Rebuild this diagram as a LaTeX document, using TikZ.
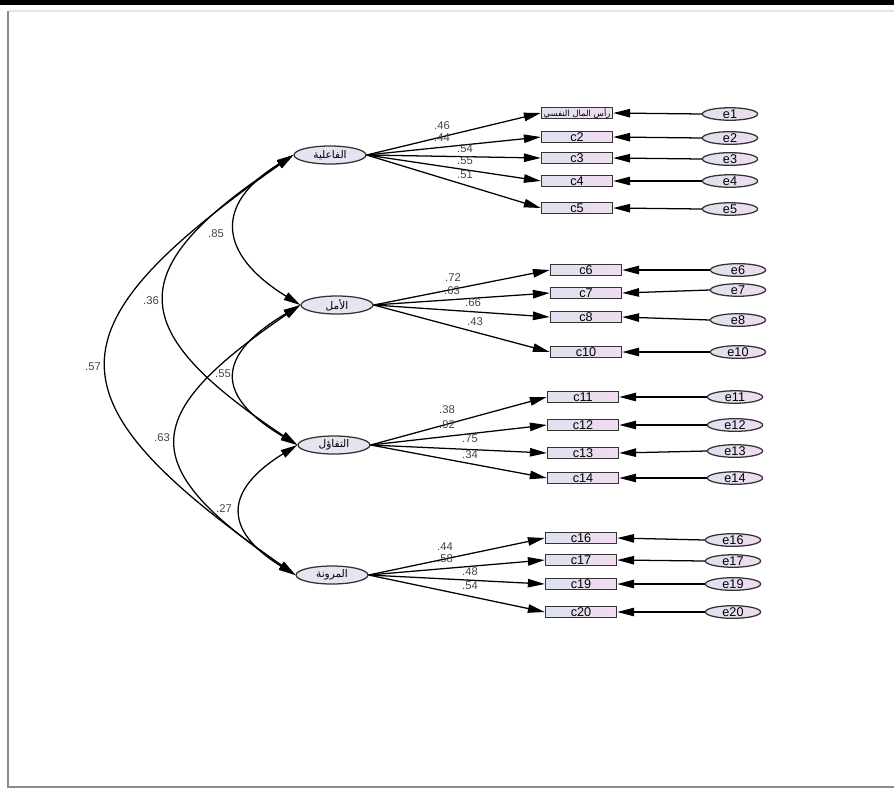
\documentclass[tikz,border=0pt]{standalone}
\usepackage{fontspec}
\setmainfont{Liberation Sans}
\newfontfamily\arabicfont[Script=Arabic]{DejaVu Sans}
\TeXXeTstate=1
\usetikzlibrary{shapes.geometric, arrows.meta, calc}
\usepackage{xcolor}
\definecolor{semline}{HTML}{333333}
\definecolor{semfill}{HTML}{E8E3F1}
\definecolor{semleft}{HTML}{DDE2EE}
\definecolor{semright}{HTML}{F1DBF0}
\definecolor{semtext}{HTML}{444444}

\begin{document}
\begin{tikzpicture}[x=0.025cm, y=-0.025cm, font=\fontsize{9}{9}\selectfont,
    latent/.style={draw=semline, ellipse, fill=semfill, line width=0.9pt,
                   minimum width=1.8cm, minimum height=0.45cm, inner sep=0pt,
                   font=\arabicfont\fontsize{7.5}{8}\selectfont},
    obs/.style={draw=semline, rectangle, left color=semleft, right color=semright,
                line width=0.9pt, minimum width=1.78cm, minimum height=0.26cm, inner sep=0pt},
    err/.style={draw=semline, ellipse, left color=semleft, right color=semright,
                line width=0.9pt, minimum width=1.38cm, minimum height=0.27cm, inner sep=0pt},
    coef/.style={text=semtext, inner sep=0pt, font=\fontsize{8}{8}\selectfont},
    path/.style={draw=black, line width=0.9pt, -{Triangle[length=12pt, width=6pt]}},
    cov/.style={draw=black, line width=0.9pt,
                {Triangle[length=12pt, width=6pt]}-{Triangle[length=12pt, width=6pt]}}]
  \useasboundingbox (0,0) rectangle (894,791);
  % page frame
  \fill[white] (0,0) rectangle (894,791);
  \fill[black] (0,0) rectangle (894,5);
  \draw[black!10, line width=1.5pt] (9,11) -- (894,11);
  \draw[black!45, line width=1.5pt] (8,11) -- (8,788);
  \draw[black!45, line width=2pt] (8,787) -- (894,787);

  % latent factors
  \node[latent] (f1) at (330,155) {\beginR الفاعلية\endR};
  \node[latent] (f2) at (337,305) {\beginR الأمل\endR};
  \node[latent] (f3) at (334,445) {\beginR التفاؤل\endR};
  \node[latent] (f4) at (332,575) {\beginR المرونة\endR};

  % first indicator
  \node[obs, font=\arabicfont\fontsize{6}{6}\selectfont] (c1) at (577,113) {\beginR رأس المال النفسي\endR};
  \node[err] (e1) at (730,114) {e1};
  \draw[path] (f1.east) -- (c1.west);
  \draw[path] (e1.west) -- (c1.east);
  \node[coef] (l1) at (442,126) {.46};

  % indicators of f1
  \foreach \n/\cy/\ey/\v/\lx/\ly in {2/137/138/.44/442/138, 3/158/159/.54/465/149,
      4/181/181/.55/465/161, 5/208/209/.51/465/175} {
    \node[obs] (c\n) at (577,\cy) {c\n};
    \node[err] (e\n) at (730,\ey) {e\n};
    \draw[path] (f1.east) -- (c\n.west);
    \draw[path] (e\n.west) -- (c\n.east);
    \node[coef] (l\n) at (\lx,\ly) {\v};
  }
  % indicators of f2
  \foreach \n/\cy/\ey/\v/\lx/\ly in {6/270/270/.72/453/278, 7/293/290/.63/452/291,
      8/317/320/.66/473/303, 10/352/352/.43/475/322} {
    \node[obs] (c\n) at (586,\cy) {c\n};
    \node[err] (e\n) at (738,\ey) {e\n};
    \draw[path] (f2.east) -- (c\n.west);
    \draw[path] (e\n.west) -- (c\n.east);
    \node[coef] (l\n) at (\lx,\ly) {\v};
  }
  % indicators of f3
  \foreach \n/\cy/\ey/\v/\lx/\ly in {11/397/397/.38/447/410, 12/425/425/.92/447/425,
      13/453/451/.75/470/439, 14/478/478/.34/470/455} {
    \node[obs] (c\n) at (583,\cy) {c\n};
    \node[err] (e\n) at (735,\ey) {e\n};
    \draw[path] (f3.east) -- (c\n.west);
    \draw[path] (e\n.west) -- (c\n.east);
    \node[coef] (l\n) at (\lx,\ly) {\v};
  }
  % indicators of f4
  \foreach \n/\cy/\ey/\v/\lx/\ly in {16/538/540/.44/445/547, 17/560/561/.58/445/559,
      19/584/584/.48/470/572, 20/612/612/.54/470/586} {
    \node[obs] (c\n) at (581,\cy) {c\n};
    \node[err] (e\n) at (733,\ey) {e\n};
    \draw[path] (f4.east) -- (c\n.west);
    \draw[path] (e\n.west) -- (c\n.east);
    \node[coef] (l\n) at (\lx,\ly) {\v};
  }

  % correlations
  \draw[cov] (f1.west) .. controls +(-81,50) and +(-81,-50) .. (f2.west);
  \draw[cov] (f2.west) .. controls +(-84,50) and +(-84,-50) .. (f3.west);
  \draw[cov] (f3.west) .. controls +(-73,45) and +(-73,-45) .. (f4.west);
  \draw[cov] (f1.west) .. controls +(-173,115) and +(-173,-115) .. (f3.west);
  \draw[cov] (f2.west) .. controls +(-161,110) and +(-161,-110) .. (f4.west);
  \draw[cov] (f1.west) .. controls +(-249,175) and +(-249,-175) .. (f4.west);
  \node[coef] (r12) at (216,234) {.85};
  \node[coef] (r23) at (223,374) {.55};
  \node[coef] (r34) at (224,509) {.27};
  \node[coef] (r13) at (151,301) {.36};
  \node[coef] (r24) at (162,438) {.63};
  \node[coef] (r14) at (93,367) {.57};
\end{tikzpicture}
\end{document}
